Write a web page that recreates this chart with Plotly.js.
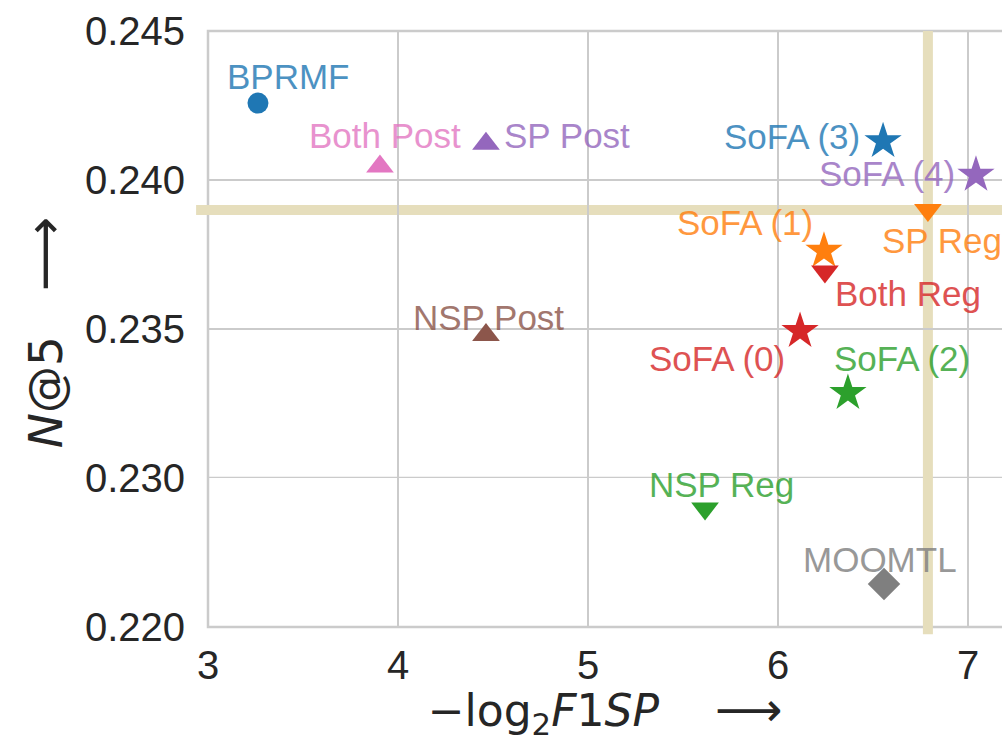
<!DOCTYPE html>
<html>
<head>
<meta charset="utf-8">
<script src="https://cdn.plot.ly/plotly-3.0.1.min.js"></script>
<style>
html, body { margin: 0; padding: 0; background: #ffffff; }
#chart { width: 1002px; height: 742px; }
</style>
</head>
<body>
<div id="chart"></div>
<script>
// ---- data ----
const methods = ['BPRMF', 'Both Post', 'SP Post', 'NSP Post', 'SoFA (3)', 'SoFA (4)', 'SP Reg',
                 'SoFA (1)', 'Both Reg', 'SoFA (0)', 'SoFA (2)', 'NSP Reg', 'MOOMTL'];
const f1spScores = [3.263, 3.905, 4.463, 4.463, 6.553, 7.042, 6.789,
                    6.242, 6.247, 6.116, 6.368, 5.616, 6.558];
const ndcgScores = [0.24258, 0.24045, 0.24122, 0.23480, 0.24130, 0.24017, 0.23899,
                    0.23762, 0.23693, 0.23493, 0.23285, 0.22795, 0.22289];
const xTickVals = [3, 4, 5, 6, 7];
const yUpperTickVals = [0.230, 0.235, 0.240, 0.245];
const yLowerTickVals = [0.220];
const axisBreak = 0.230;      // the y axis is drawn in two segments below / above this value
const referenceMethod = 'SP Reg';

// ---- styles ----
const markerSymbols = ['circle', 'triangle-up', 'triangle-up', 'triangle-up', 'star', 'star', 'triangle-down',
                       'star', 'triangle-down', 'star', 'star', 'triangle-down', 'diamond'];
const markerColors = ['#1f77b4', '#e377c2', '#9467bd', '#8c564b', '#1f77b4', '#9467bd', '#ff7f0e',
                      '#ff7f0e', '#d62728', '#d62728', '#2ca02c', '#2ca02c', '#7f7f7f'];
const symbolSizes = { 'circle': 21, 'triangle-up': 24, 'triangle-down': 24, 'star': 28, 'diamond': 25 };
// label offset from the marker in pixels: [dx, dy (down positive), xanchor]
const labelOffsets = [[31, -27, 'center'], [5, -31, 'center'], [16, -8, 'left'], [3, -17, 'center'],
                      [-21, -5, 'right'], [-19, -1, 'right'], [-48, 30, 'left'], [-9, -28, 'right'],
                      [8, 22, 'left'], [-13, 27, 'right'], [-16, -35, 'left'], [16, -24, 'center'],
                      [-4, -24, 'center']];

const tickFont = { family: 'Liberation Sans, Arial, sans-serif', size: 40, color: '#262626' };
const labelFontFamily = 'Liberation Sans, Arial, sans-serif';
const gridColor = '#cbcbcb';
const tanColor = 'rgb(230,222,188)';

const axisFor = v => (v < axisBreak ? 'y2' : 'y');

const traces = methods.map((m, i) => ({
  type: 'scatter',
  mode: 'markers',
  name: m,
  x: [f1spScores[i]],
  y: [ndcgScores[i]],
  xaxis: 'x',
  yaxis: axisFor(ndcgScores[i]),
  cliponaxis: false,
  hoverinfo: 'x+y+name',
  marker: {
    symbol: markerSymbols[i],
    color: markerColors[i],
    size: symbolSizes[markerSymbols[i]],
    line: { width: 0 }
  }
}));

const labelAnnotations = methods.map((m, i) => ({
  x: f1spScores[i],
  y: ndcgScores[i],
  xref: 'x',
  yref: axisFor(ndcgScores[i]),
  text: m,
  showarrow: false,
  xshift: labelOffsets[i][0],
  yshift: -labelOffsets[i][1],
  xanchor: labelOffsets[i][2],
  yanchor: 'middle',
  opacity: 0.8,
  font: { family: labelFontFamily, size: 35, color: markerColors[i] }
}));

const refIdx = methods.indexOf(referenceMethod);
const refX = f1spScores[refIdx];
const refY = ndcgScores[refIdx];

const plotLeft = 208, plotWidth = 794, pxPerUnit = 190;

const layout = {
  width: 1002,
  height: 742,
  margin: { l: plotLeft, r: 0, t: 31, b: 115, pad: 0 },
  paper_bgcolor: '#ffffff',
  plot_bgcolor: '#ffffff',
  showlegend: false,
  xaxis: {
    domain: [0, 1],
    anchor: 'y2',
    range: [3, 3 + plotWidth / pxPerUnit],
    tickvals: xTickVals,
    ticktext: xTickVals.map(String),
    ticks: '',
    showline: false,
    zeroline: false,
    showgrid: true,
    gridcolor: gridColor,
    gridwidth: 2.5,
    tickfont: tickFont,
    ticklabelstandoff: 11,
    title: {
      text: '\u2212log<sub>2</sub><i>F</i>1<i>SP</i>\u00a0\u00a0\u00a0\u00a0<span style="font-size:47px">\u27f6</span>',
      font: { family: 'DejaVu Sans, sans-serif', size: 44, color: '#262626' },
      standoff: 0
    }
  },
  yaxis: {
    domain: [0.25, 1],
    anchor: 'x',
    range: [axisBreak, 0.245],
    tickvals: yUpperTickVals,
    tickformat: '.3f',
    ticks: '',
    showline: false,
    zeroline: false,
    showgrid: true,
    gridcolor: gridColor,
    gridwidth: 2.5,
    tickfont: tickFont,
    ticklabelstandoff: 22
  },
  yaxis2: {
    domain: [0, 0.25],
    anchor: 'x',
    range: [0.220, axisBreak],
    tickvals: yLowerTickVals,
    tickformat: '.3f',
    ticks: '',
    showline: false,
    zeroline: false,
    showgrid: true,
    gridcolor: gridColor,
    gridwidth: 2.5,
    tickfont: tickFont,
    ticklabelstandoff: 22
  },
  shapes: [
    // frame (right side lies outside the picture)
    { type: 'rect', xref: 'paper', yref: 'paper', x0: 0, x1: 1.02, y0: 0, y1: 1,
      line: { color: gridColor, width: 2.5 }, fillcolor: 'rgba(0,0,0,0)', layer: 'below' },
    // grid line at the segment boundary
    { type: 'line', xref: 'paper', yref: 'y', x0: 0, x1: 1, y0: axisBreak, y1: axisBreak,
      line: { color: gridColor, width: 2.5 }, layer: 'below' },
    // reference cross-hair through SP Reg
    { type: 'line', xref: 'paper', yref: 'y', x0: -0.015, x1: 1, y0: refY, y1: refY,
      line: { color: tanColor, width: 10 }, layer: 'below' },
    { type: 'line', xref: 'x', yref: 'paper', x0: refX, x1: refX, y0: -0.012, y1: 1,
      line: { color: tanColor, width: 10 }, layer: 'below' }
  ],
  annotations: labelAnnotations.concat([
    {
      xref: 'paper', yref: 'paper',
      x: (44 - plotLeft) / plotWidth, y: 0.493,
      xanchor: 'center', yanchor: 'middle',
      textangle: -90,
      showarrow: false,
      text: '<i>N</i>@5\u00a0\u00a0\u00a0<span style="font-size:52px">\u27f6</span>',
      font: { family: 'DejaVu Sans, sans-serif', size: 47, color: '#262626' }
    }
  ])
};

Plotly.newPlot('chart', traces, layout, { staticPlot: true, displayModeBar: false });
</script>
</body>
</html>
